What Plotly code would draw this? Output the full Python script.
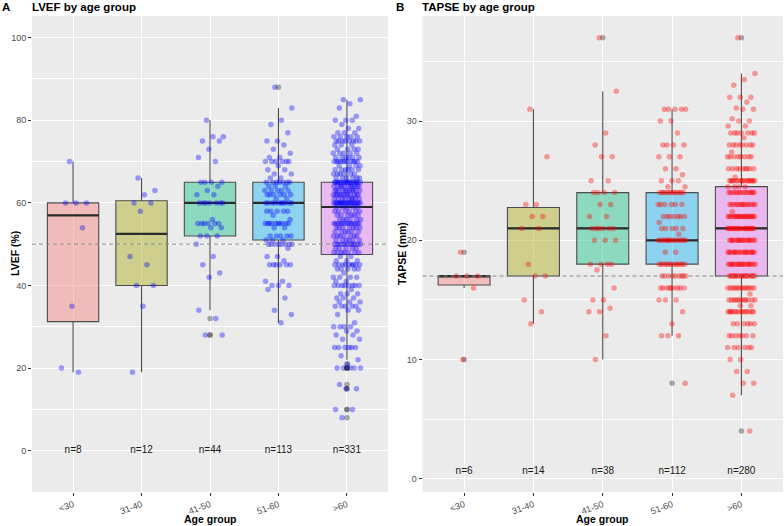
import plotly.graph_objects as go

W, H = 784, 526
FONT = "Liberation Sans, Arial, sans-serif"

age_groups = ["<30", "31-40", "41-50", "51-60", ">60"]
group_fill = ["rgba(248,118,109,0.4)", "rgba(163,165,0,0.4)", "rgba(0,191,125,0.4)",
              "rgba(0,176,246,0.4)", "rgba(231,107,243,0.4)"]

# LVEF (%), as (value, how many patients) per age group
lvef_lt30 = [(70, 1), (60, 3), (54, 1), (35, 1), (20, 1), (19, 1)]
lvef_31_40 = [(66, 1), (63, 1), (62, 1), (60, 2), (58, 1), (47, 1), (45, 1), (40, 2), (35, 1), (19, 1)]
lvef_41_50 = [(80, 1), (76, 2), (75, 2), (73, 1), (71, 1), (70, 1), (65, 4), (64, 1), (63, 1), (62, 2),
              (60, 7), (56, 1), (55, 6), (54, 2), (52, 3), (50, 1), (47, 1), (45, 1), (43, 1), (42, 1),
              (34, 1), (32, 1), (28, 2)]
lvef_51_60 = [(88, 1), (83, 1), (80, 1), (79, 1), (77, 1), (75, 2), (74, 1), (73, 1), (72, 1), (71, 2),
              (70, 6), (69, 1), (68, 2), (67, 2), (66, 2), (65, 7), (64, 3), (63, 5), (62, 6), (61, 2),
              (60, 10), (58, 5), (57, 1), (56, 1), (55, 10), (54, 2), (52, 5), (51, 3), (50, 8), (49, 1),
              (47, 2), (46, 1), (45, 6), (41, 2), (40, 3), (39, 1), (37, 1), (34, 1), (33, 1), (31, 1)]
lvef_gt60 = [(85, 2), (84, 1), (83, 1), (81, 1), (80, 3), (79, 1), (78, 2), (77, 3), (76, 5), (75, 8),
             (74, 3), (73, 4), (72, 5), (71, 6), (70, 11), (69, 4), (68, 6), (67, 6), (66, 6), (65, 18),
             (64, 11), (63, 11), (62, 12), (61, 9), (60, 22), (59, 5), (58, 6), (57, 6), (56, 6), (55, 13),
             (54, 7), (53, 6), (52, 7), (51, 6), (50, 13), (49, 5), (48, 7), (47, 2), (46, 3), (45, 9),
             (44, 5), (43, 1), (42, 4), (41, 2), (40, 8), (39, 1), (38, 3), (37, 3), (36, 3), (35, 5),
             (34, 2), (33, 1), (31, 1), (30, 4), (29, 2), (28, 2), (27, 2), (25, 6), (23, 1), (22, 1),
             (21, 1), (20, 5), (16, 1), (15, 2), (10, 2), (8, 1)]

# box statistics as drawn in panel A
lvef_q1 = [31.25, 40, 52, 51, 47.5]
lvef_median = [57, 52.5, 60, 60, 59]
lvef_q3 = [60, 60.5, 65, 65, 65]
lvef_lower = [19, 19, 34, 31, 22]
lvef_upper = [70, 66, 80, 83, 85]
lvef_cutoff = 50

# TAPSE (mm)
tapse_lt30 = [(19, 1), (17, 3), (16, 1), (10, 1)]
tapse_31_40 = [(31, 1), (27, 1), (23, 2), (22, 2), (21, 2), (18, 1), (17, 2), (15, 1), (14, 1), (13, 1)]
tapse_41_50 = [(37, 1), (32.5, 1), (29, 1), (28, 1), (27, 2), (25, 2), (24, 4), (23, 2), (22, 2), (21, 6),
               (20, 3), (18, 4), (17.5, 1), (16, 1), (15, 2), (14.3, 1), (14, 2), (12, 1), (10, 1)]
tapse_51_60 = [(31, 5), (30, 2), (29, 1), (28, 4), (27, 3), (26, 2), (25.5, 1), (25, 3), (24.5, 2), (24, 12),
               (23, 6), (22, 7), (21.5, 1), (21, 5), (20.5, 1), (20, 15), (19, 2), (18, 13), (17, 9), (16, 9),
               (15, 3), (14, 1), (13, 1), (12, 3), (8, 1)]
tapse_gt60 = [(37, 1), (34, 1), (33.5, 1), (33, 1), (32, 3), (31.6, 1), (31.1, 1), (31, 2), (30.2, 1), (30, 2),
              (29.6, 2), (29, 7), (28.6, 1), (28, 8), (27.4, 1), (27, 8), (26, 9), (25.3, 1), (25, 17), (24.5, 4),
              (24, 14), (23, 14), (22.4, 1), (22, 20), (21, 20), (20, 17), (19, 17), (18, 18), (17, 18), (16, 13),
              (15.5, 1), (15, 12), (14.5, 2), (14, 14), (13, 6), (12, 7), (11, 6), (10, 2), (9, 2), (8, 2),
              (7, 1), (4, 1)]

tapse_q1 = [16.25, 17, 18, 18, 17]
tapse_median = [17, 21, 21, 20, 21]
tapse_q3 = [17, 22.75, 24, 24, 24.5]
tapse_lower = [16, 13, 10, 12, 7]
tapse_upper = [17, 31, 32.5, 31, 34]
tapse_cutoff = 17


def expand(pairs):
    out = []
    for v, c in pairs:
        out += [v] * c
    return out


def spread(n, half=0.2):
    # deterministic horizontal scatter, like geom_jitter(width = 0.2)
    return [(((k * 0.6180339887 + 0.37) % 1.0) * 2 - 1) * half for k in range(n)]


def add_panel(fig, groups, q1, med, q3, lo, hi, cutoff, dot_color, xa, ya, n_y):
    groups = [expand(g) for g in groups]
    for i, vals in enumerate(groups):
        fig.add_trace(go.Box(
            x=[i], q1=[q1[i]], median=[med[i]], q3=[q3[i]],
            lowerfence=[lo[i]], upperfence=[hi[i]],
            width=0.75, whiskerwidth=0, boxpoints=False,
            fillcolor=group_fill[i], line=dict(color="#4d4d4d", width=1.1),
            xaxis=xa, yaxis=ya, hoverinfo="skip"))
        out = [v for v in vals if v < lo[i] or v > hi[i]]
        if out:
            fig.add_trace(go.Scatter(
                x=[i] * len(out), y=out, mode="markers", xaxis=xa, yaxis=ya,
                marker=dict(size=5.5, color="rgba(51,51,51,0.4)", line=dict(width=0))))

    mx, my = [], []
    for i in range(len(groups)):
        mx += [i - 0.375, i + 0.375, None]
        my += [med[i], med[i], None]
    fig.add_trace(go.Scatter(x=mx, y=my, mode="lines", xaxis=xa, yaxis=ya,
                             line=dict(color="#2b2b2b", width=2.2)))

    for i, vals in enumerate(groups):
        xs = [i + d for d in spread(len(vals))]
        fig.add_trace(go.Scatter(
            x=xs, y=vals, mode="markers", xaxis=xa, yaxis=ya,
            marker=dict(size=5.5, color=dot_color, line=dict(width=0))))

    fig.add_trace(go.Scatter(
        x=list(range(len(groups))), y=[n_y] * len(groups),
        text=[f"n={len(g)}" for g in groups], mode="text", xaxis=xa, yaxis=ya,
        textfont=dict(family=FONT, size=10, color="#1a1a1a")))

    fig.add_shape(type="line", xref=f"{xa} domain", yref=ya, x0=0, x1=1, y0=cutoff, y1=cutoff,
                  line=dict(color="#8a8a8a", width=1, dash="4px,3px"), layer="above")


fig = go.Figure()
add_panel(fig, [lvef_lt30, lvef_31_40, lvef_41_50, lvef_51_60, lvef_gt60],
          lvef_q1, lvef_median, lvef_q3, lvef_lower, lvef_upper, lvef_cutoff,
          "rgba(0,0,255,0.36)", "x", "y", 0)
add_panel(fig, [tapse_lt30, tapse_31_40, tapse_41_50, tapse_51_60, tapse_gt60],
          tapse_q1, tapse_median, tapse_q3, tapse_lower, tapse_upper, tapse_cutoff,
          "rgba(255,0,0,0.36)", "x2", "y2", 0.6)

ydom = [1 - 492 / H, 1 - 16 / H]
tick_font = dict(family=FONT, size=9, color="#4d4d4d")
common_x = dict(range=[-0.6, 4.6], tickvals=list(range(5)), ticktext=age_groups, tickangle=-20,
                ticks="outside", ticklen=3, tickcolor="#333333", tickfont=tick_font,
                showgrid=True, gridcolor="white", gridwidth=1.1, zeroline=False, showline=False,
                automargin=False)
common_y = dict(domain=ydom, ticks="outside", ticklen=3, tickcolor="#333333", tickfont=tick_font,
                showgrid=True, gridcolor="white", gridwidth=1.1, zeroline=False, showline=False,
                automargin=False)

fig.update_layout(
    width=W, height=H, margin=dict(l=0, r=0, t=0, b=0),
    paper_bgcolor="white", plot_bgcolor="#EBEBEB", showlegend=False,
    boxmode="overlay", font=dict(family=FONT),
    xaxis=dict(domain=[32 / W, 388 / W], anchor="y", **common_x),
    xaxis2=dict(domain=[422.5 / W, 783 / W], anchor="y2", **common_x),
    yaxis=dict(anchor="x", range=[-10, 105.25], tickvals=[0, 20, 40, 60, 80, 100],
               minor=dict(tickvals=[10, 30, 50, 70, 90], showgrid=True, gridcolor="white", gridwidth=0.5),
               **common_y),
    yaxis2=dict(anchor="x2", range=[-1.12, 38.82], tickvals=[0, 10, 20, 30],
                minor=dict(tickvals=[5, 15, 25, 35], showgrid=True, gridcolor="white", gridwidth=0.5),
                **common_y),
)

title_font = dict(family=FONT, size=11.5, color="black")
label_font = dict(family=FONT, size=10.5, color="black")
notes = [
    (0, 7, "<b>A</b>", "left", 0, title_font),
    (30, 7, "<b>LVEF by age group</b>", "left", 0, title_font),
    (394, 7, "<b>B</b>", "left", 0, title_font),
    (420.5, 7, "<b>TAPSE by age group</b>", "left", 0, title_font),
    (210, 519, "<b>Age group</b>", "center", 0, label_font),
    (602.5, 519, "<b>Age group</b>", "center", 0, label_font),
    (15, 254, "<b>LVEF (%)</b>", "center", -90, label_font),
    (402, 254, "<b>TAPSE (mm)</b>", "center", -90, label_font),
]
for px, py, txt, anchor, ang, fnt in notes:
    fig.add_annotation(x=px / W, y=1 - py / H, xref="paper", yref="paper", text=txt,
                       showarrow=False, xanchor=anchor, yanchor="middle", textangle=ang, font=fnt)

# the page's default body margin would push the 784x526 figure off the window
fig.write_html("out.html", config={"displayModeBar": False},
               post_script="document.body.style.margin='0px';document.body.style.overflow='hidden';")
